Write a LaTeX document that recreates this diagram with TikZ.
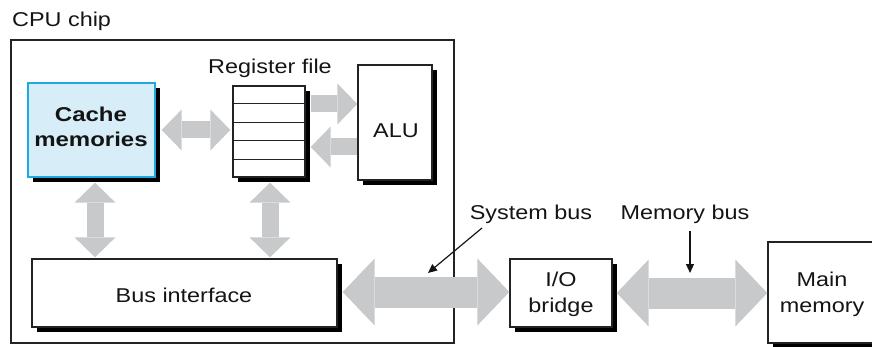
\documentclass[tikz,border=0pt]{standalone}
\usepackage{fontspec}
\setmainfont{Liberation Sans}
\usepackage{graphicx}
\usetikzlibrary{arrows.meta,shadows,calc}
\definecolor{arrowgray}{RGB}{200,201,203}
\definecolor{cachefill}{RGB}{215,238,249}
\definecolor{cacheline}{RGB}{30,170,225}
\definecolor{linegray}{RGB}{35,35,35}
\definecolor{txtgray}{RGB}{20,20,20}
\newcommand\xstr[1]{\scalebox{1.17}[1]{#1}}
\begin{document}
\begin{tikzpicture}[x=1pt,y=-1pt,
  lbl/.style={font=\fontsize{20}{24}\selectfont, text=txtgray, inner sep=0pt, anchor=base},
  boldlbl/.style={lbl, font=\fontsize{20}{24}\selectfont\bfseries},
  box/.style={draw=linegray, line width=1.3pt, fill=white, inner sep=0pt,
    drop shadow={shadow xshift=5pt, shadow yshift=-5pt, opacity=1, fill=black}},
  fatA/.style={draw=arrowgray, line width=17pt,
    >={Triangle[length=20pt,width=41pt,line width=0pt]}},
  fatB/.style={draw=arrowgray, line width=31pt,
    >={Triangle[length=32pt,width=67pt,line width=0pt]}},
  ptr/.style={draw=txtgray, line width=1.2pt, -{Triangle[length=9pt,width=8pt]}}
]
\useasboundingbox (0,0) rectangle (872,347);
\clip (0,0) rectangle (872,347);

% CPU chip
\node[draw=linegray, line width=2.6pt, inner sep=0pt, minimum width=443pt, minimum height=303pt] (chip) at (232.5,191.5) {};
\node[lbl, anchor=base west] (chiplbl) at (12,27) {\xstr{CPU chip}};

% boxes
\node[box, draw=cacheline, fill=cachefill, minimum width=127pt, minimum height=94pt] (cache) at (91.5,130) {};
\node[box, minimum width=72pt, minimum height=91pt] (reg) at (269,131.5) {};
\foreach \i in {1,...,4}
  \draw[draw=linegray, line width=1.3pt] ($(reg.north west)!\i/5!(reg.south west)$) -- ($(reg.north east)!\i/5!(reg.south east)$);
\node[box, minimum width=74pt, minimum height=115pt] (alu) at (395,122.5) {};
\node[box, minimum width=305pt, minimum height=68pt] (busif) at (184.5,293) {};
\node[box, minimum width=102pt, minimum height=68pt] (iob) at (561,293) {};
\node[box, minimum width=108pt, minimum height=101pt] (mainmem) at (822,292.5) {};

% texts
\node[lbl] (regl) at (270,74) {\xstr{Register file}};
\node[boldlbl] (cachel1) at (91,122) {\scalebox{1.2}[1]{Cache}};
\node[boldlbl] (cachel2) at (91,147) {\scalebox{1.2}[1]{memories}};
\node[lbl] (alul) at (396,138) {\xstr{ALU}};
\node[lbl] (busifl) at (184,302) {\xstr{Bus interface}};
\node[lbl] (iobl1) at (561,287) {\xstr{I/O}};
\node[lbl] (iobl2) at (561,312) {\xstr{bridge}};
\node[lbl] (mml1) at (822,287) {\xstr{Main}};
\node[lbl] (mml2) at (822,312) {\xstr{memory}};
\node[lbl] (sysl) at (531,220) {\xstr{System bus}};
\node[lbl] (meml) at (685,220) {\xstr{Memory bus}};

% fat arrows
\coordinate (a1) at ($(cache.east)+(6,0)$);
\draw[fatA, <->] (a1) -- ($(a1 -| reg.west)+(-2,0)$);
\coordinate (r1) at ($(reg.east)+(5,-27.5)$);
\draw[fatA, ->] (r1) -- (r1 -| alu.west);
\coordinate (r2) at ($(reg.east)+(5,15.5)$);
\draw[fatA, ->] (r2 -| alu.west) -- (r2);
\coordinate (c1) at ($(cache.south)+(3.5,5)$);
\draw[fatA, <->] (c1) -- ($(c1 |- busif.north)+(0,-1)$);
\coordinate (c2) at ($(reg.south)+(1,5)$);
\draw[fatA, <->] (c2) -- ($(c2 |- busif.north)+(0,-1)$);
\coordinate (s1) at ($(busif.east)+(5,-1)$);
\draw[fatB, <->] (s1) -- (s1 -| iob.west);
\coordinate (m1) at ($(iob.east)+(4,0)$);
\draw[fatB, <->] (m1) -- (m1 -| mainmem.west);

% pointers
\coordinate (sp) at (482,228);
\coordinate (st) at (428,273);
\draw[ptr] (sp) -- (st);
\coordinate (mp) at (690,231);
\coordinate (mt) at (690,273);
\draw[ptr] (mp) -- (mt);
\end{tikzpicture}
\end{document}
